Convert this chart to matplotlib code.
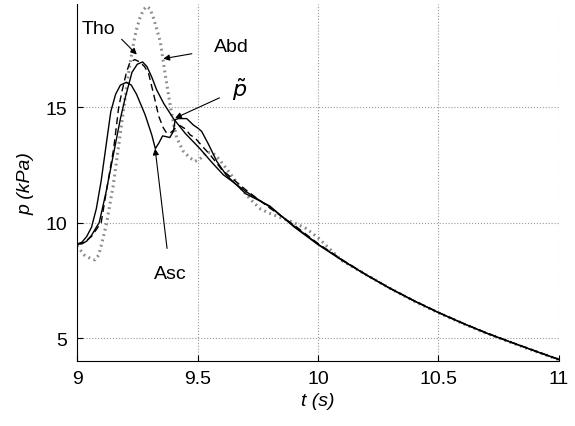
import matplotlib
matplotlib.use("Agg")
import matplotlib.pyplot as plt

# pressure curves (t in s, p in kPa)
t_asc = [9.0, 9.02, 9.04, 9.06, 9.08, 9.10, 9.12, 9.14, 9.16, 9.18, 9.205, 9.225,
         9.247, 9.265, 9.282, 9.31, 9.325, 9.34, 9.355, 9.365, 9.385, 9.40, 9.407,
         9.42, 9.455, 9.47, 9.483, 9.50, 9.517, 9.545, 9.58, 9.62, 9.7, 9.8, 9.9,
         10.0, 10.1, 10.2, 10.3, 10.4, 10.5, 10.6, 10.7, 10.8, 10.9, 11.0]
p_asc = [9.07, 9.15, 9.4, 9.8, 10.6, 11.8, 13.3, 14.8, 15.55, 15.95, 16.07, 15.95,
         15.55, 15.1, 14.68, 13.8, 13.2, 13.45, 13.75, 13.73, 13.68, 13.95, 14.45,
         14.5, 14.5, 14.35, 14.22, 14.1, 13.95, 13.4, 12.65, 12.05, 11.25, 10.72, 9.82,
         9.05, 8.37, 7.74, 7.15, 6.61, 6.11, 5.65, 5.22, 4.83, 4.45, 4.08]

t_tho = [9.0, 9.03, 9.06, 9.08, 9.10, 9.124, 9.152, 9.173, 9.187, 9.205, 9.22, 9.24,
         9.26, 9.28, 9.297, 9.318, 9.339, 9.358, 9.372, 9.39, 9.41, 9.427, 9.45,
         9.469, 9.49, 9.52, 9.552, 9.6, 9.7, 9.8, 9.9, 10.0, 10.1, 10.2, 10.3, 10.4,
         10.5, 10.6, 10.7, 10.8, 10.9, 11.0]
p_tho = [9.07, 9.15, 9.4, 9.7, 10.0, 11.5, 13.2, 15.0, 15.7, 16.5, 16.95, 17.05,
         16.95, 16.75, 16.45, 15.55, 14.6, 14.1, 13.87, 13.9, 14.1, 14.2, 14.05,
         13.8, 13.66, 13.3, 12.94, 12.3, 11.42, 10.63, 9.9, 9.1, 8.4, 7.75, 7.16, 6.62,
         6.12, 5.66, 5.23, 4.84, 4.46, 4.09]

t_pt = [9.0, 9.02, 9.04, 9.06, 9.08, 9.092, 9.12, 9.15, 9.18, 9.20, 9.228, 9.25,
        9.272, 9.29, 9.31, 9.33, 9.36, 9.40, 9.45, 9.51, 9.56, 9.607, 9.7, 9.8, 9.9,
        10.0, 10.1, 10.2, 10.3, 10.4, 10.5, 10.6, 10.7, 10.8, 10.9, 11.0]
p_pt = [9.07, 9.08, 9.2, 9.45, 9.8, 10.0, 11.3, 12.9, 14.5, 15.4, 16.5, 16.85,
        16.95, 16.75, 16.3, 15.75, 15.15, 14.5, 13.85, 13.2, 12.6, 12.07, 11.35, 10.68,
        9.86, 9.07, 8.38, 7.74, 7.15, 6.61, 6.11, 5.65, 5.22, 4.83, 4.45, 4.08]

t_abd = [9.0, 9.03, 9.06, 9.075, 9.09, 9.105, 9.123, 9.15, 9.175, 9.194, 9.21, 9.228,
         9.245, 9.261, 9.275, 9.289, 9.303, 9.317, 9.33, 9.346, 9.366, 9.387, 9.40,
         9.414, 9.44, 9.469, 9.49, 9.515, 9.538, 9.565, 9.593, 9.63, 9.676, 9.72, 9.76,
         9.8, 9.85, 9.9, 9.95, 10.0, 10.05, 10.1, 10.2, 10.3, 10.4, 10.5, 10.6, 10.7,
         10.8, 10.9, 11.0]
p_abd = [9.0, 8.6, 8.42, 8.39, 8.6, 9.2, 10.0, 11.6, 13.5, 14.96, 16.2, 17.4,
         18.3, 18.85, 19.2, 19.35, 19.25, 18.85, 18.4, 17.8, 16.4, 15.05, 14.3,
         13.66, 13.1, 12.8, 12.65, 12.8, 13.05, 13.0, 12.7, 12.2, 11.55, 11.0, 10.6,
         10.4, 10.2, 10.0, 9.75, 9.35, 8.85, 8.35, 7.75, 7.15, 6.6, 6.1, 5.64, 5.21,
         4.82, 4.44, 4.07]

x_ticks = [9, 9.5, 10, 10.5, 11]
x_labels = ["9", "9.5", "10", "10.5", "11"]
y_ticks = [5, 10, 15]

plt.rcParams['font.family'] = ['Liberation Sans', 'DejaVu Sans']

fig = plt.figure(figsize=(5.75, 4.27), dpi=100)
ax = fig.add_axes([0.134, 0.153, 0.838, 0.835])

ax.plot(t_abd, p_abd, color='0.55', lw=2.2, ls=(0, (0.6, 1.2)))
ax.plot(t_pt, p_pt, color='k', lw=1.0)
ax.plot(t_asc, p_asc, color='k', lw=1.0)
ax.plot(t_tho, p_tho, color='k', lw=1.0, ls=(0, (5, 3)))

ax.set_xlim(9, 11)
ax.set_ylim(4.03, 19.45)
ax.set_xticks(x_ticks)
ax.set_xticklabels(x_labels)
ax.set_yticks(y_ticks)
ax.grid(True, ls=':', color='0.6', lw=0.8)
ax.tick_params(direction='in', length=4, labelsize=14, pad=7)
ax.spines['top'].set_visible(False)
ax.spines['right'].set_visible(False)

ax.set_xlabel('t (s)', fontsize=14, fontstyle='italic', labelpad=3)
ax.set_ylabel('p (kPa)', fontsize=14, fontstyle='italic', labelpad=8)

arrow = dict(arrowstyle='-|>', lw=0.8, color='k', mutation_scale=9, shrinkA=0, shrinkB=0)
ax.text(9.088, 18.4, 'Tho', fontsize=14, ha='center', va='center')
ax.annotate('', xy=(9.248, 17.27), xytext=(9.185, 17.93), arrowprops=arrow)
ax.annotate('Abd', xy=(9.358, 17.09), xytext=(9.64, 17.6), fontsize=14,
            ha='center', va='center', arrowprops=dict(arrow, shrinkA=14))
ax.annotate(r'$\tilde{p}$', xy=(9.407, 14.52), xytext=(9.676, 15.8), fontsize=16,
            ha='center', va='center', arrowprops=dict(arrow, shrinkA=8))
ax.annotate('Asc', xy=(9.324, 13.2), xytext=(9.386, 7.8), fontsize=14,
            ha='center', va='center', arrowprops=dict(arrow, shrinkA=10))

fig.savefig('out.png', dpi=100)
